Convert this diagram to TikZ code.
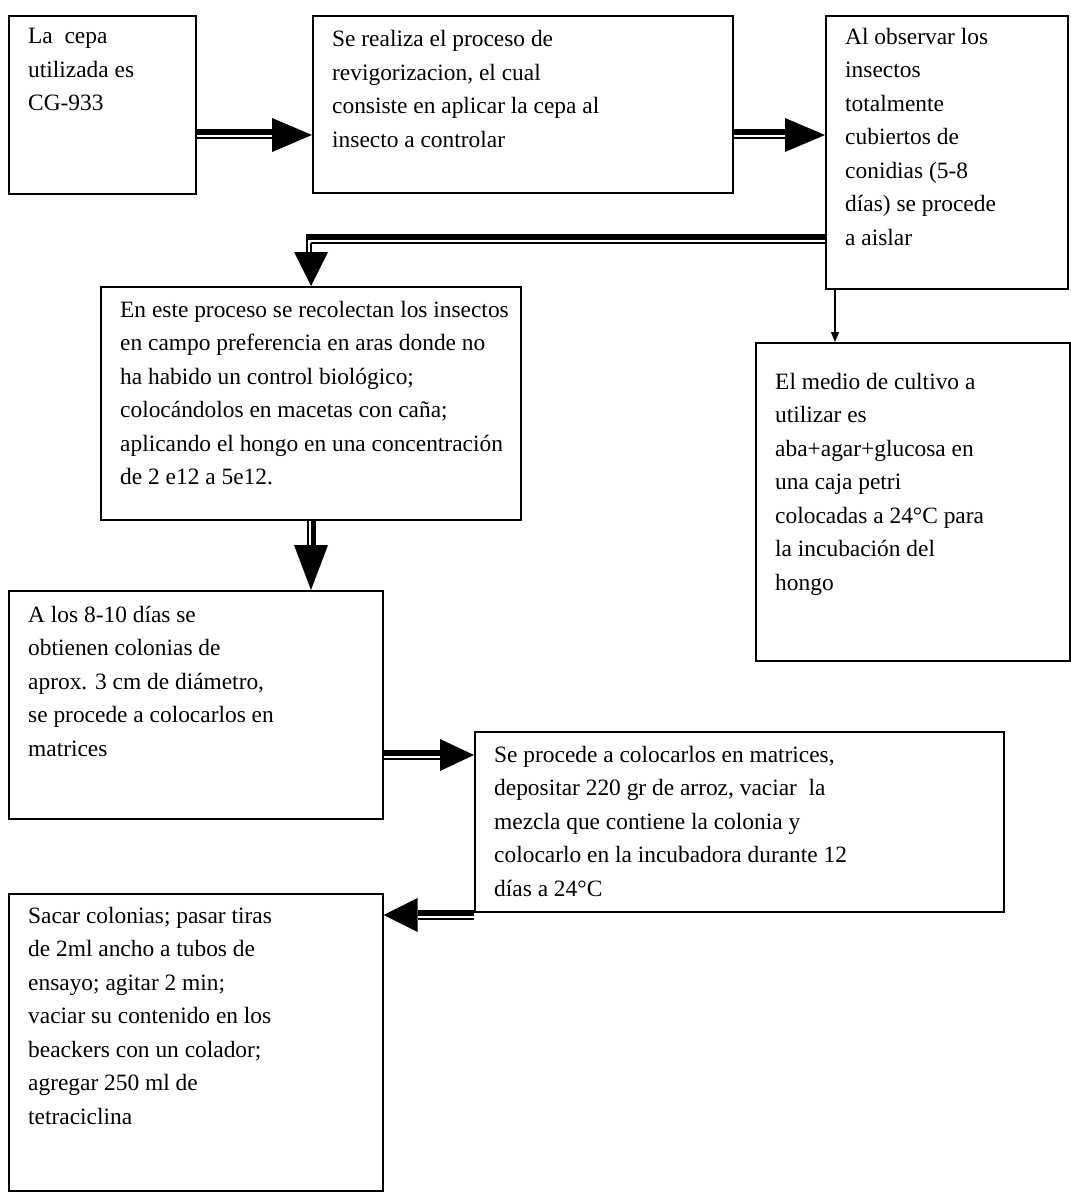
\documentclass[tikz,border=0pt]{standalone}
\usepackage{fontspec}
\setmainfont{Liberation Serif}
\usetikzlibrary{calc,arrows.meta}
\begin{document}
\begin{tikzpicture}[x=1pt,y=-1pt,
  box/.style={draw=black,line width=1.6pt,anchor=north west,inner sep=0pt},
  txt/.style={anchor=base west,align=left,inner sep=0pt,font=\fontsize{23.4}{33.5}\selectfont},
  thk/.style={line width=6pt},
  thn/.style={line width=2pt},
  headfill/.style={fill=black}]
\useasboundingbox (0,0) rectangle (1070,1193);
% boxes
\node[box,minimum width=187pt,minimum height=178pt] (b1) at (8,15) {};
\node[box,minimum width=420pt,minimum height=177pt] (b2) at (312,15) {};
\node[box,minimum width=242pt,minimum height=273pt] (b3) at (825,15) {};
\node[box,minimum width=420pt,minimum height=233pt] (b4) at (100,286) {};
\node[box,minimum width=374pt,minimum height=228pt] (b5) at (8,590) {};
\node[box,minimum width=529pt,minimum height=180pt] (b6) at (474,731) {};
\node[box,minimum width=374pt,minimum height=297pt] (b7) at (8,893) {};
\node[box,minimum width=314pt,minimum height=318pt] (b8) at (755,342) {};
% texts (anchor = baseline of last line)
\node[txt] (t1) at (28,111) {La\ \ cepa\\utilizada es\\CG-933};
\node[txt] (t2) at (332,147.5) {Se realiza el proceso de\\revigorizacion, el cual\\consiste en aplicar la cepa al\\insecto a controlar};
\node[txt] (t3) at (845,245) {Al observar los\\insectos\\totalmente\\cubiertos de\\conidias (5-8\\días) se procede\\a aislar};
\node[txt] (t4) at (120,484.5) {En este proceso se recolectan los insectos\\en campo preferencia en aras donde no\\ha habido un control biológico;\\colocándolos en macetas con caña;\\aplicando el hongo en una concentración\\de 2 e12 a 5e12.};
\node[txt] (t5) at (28,756) {A los 8-10 días se\\obtienen colonias de\\aprox. 3 cm de diámetro,\\se procede a colocarlos en\\matrices};
\node[txt] (t6) at (494,896) {Se procede a colocarlos en matrices,\\depositar 220 gr de arroz, vaciar\ \ la\\mezcla que contiene la colonia y\\colocarlo en la incubadora durante 12\\días a 24°C};
\node[txt] (t7) at (28,1124) {Sacar colonias; pasar tiras\\de 2ml ancho a tubos de\\ensayo; agitar 2 min;\\vaciar su contenido en los\\beackers con un colador;\\agregar 250 ml de\\tetraciclina};
\node[txt] (t8) at (775,590) {El medio de cultivo a\\utilizar es\\aba+agar+glucosa en\\una caja petri\\colocadas a 24°C para\\la incubación del\\hongo};
% helper rows/columns
\coordinate (y1) at (0,135);
\coordinate (y3) at (0,240);
\coordinate (x3) at (311,0);
\coordinate (y5) at (0,755);
\coordinate (y6) at (0,915);
\coordinate (x7) at (835,0);
% arrow 1: b1 -> b2
\draw[thk] ($(b1.east|-y1)+(0,-2.5)$) -- ($(b2.west|-y1)+(-40,-2.5)$);
\draw[thn] ($(b1.east|-y1)+(0,3.5)$) -- ($(b2.west|-y1)+(-40,3.5)$);
\fill[headfill] (b2.west|-y1) -- ++(-40,-17) -- ++(0,34) -- cycle;
% arrow 2: b2 -> b3
\draw[thk] ($(b2.east|-y1)+(0,-2.5)$) -- ($(b3.west|-y1)+(-40,-2.5)$);
\draw[thn] ($(b2.east|-y1)+(0,3.5)$) -- ($(b3.west|-y1)+(-40,3.5)$);
\fill[headfill] (b3.west|-y1) -- ++(-40,-17) -- ++(0,34) -- cycle;
% arrow 3: b3 -> b4 (elbow)
\draw[thk] ($(b3.west|-y3)+(0,-3)$) -- ($(x3|-y3)+(-5,-3)$);
\draw[thn] ($(b3.west|-y3)+(0,3)$) -- ($(x3|-y3)+(0,3)$);
\draw[thn] ($(x3|-y3)+(-4.5,0)$) -- ($(x3|-b4.north)+(-4.5,-33)$);
\draw[thn] ($(x3|-y3)+(0,3)$) -- ($(x3|-b4.north)+(0,-33)$);
\fill[headfill] (x3|-b4.north) -- ++(-17,-34) -- ++(34,0) -- cycle;
% arrow 4: b4 -> b5
\draw[thn] ($(x3|-b4.south)+(-3.5,0)$) -- ($(x3|-b5.north)+(-3.5,-45)$);
\draw[line width=5pt] ($(x3|-b4.south)+(2.5,0)$) -- ($(x3|-b5.north)+(2.5,-45)$);
\fill[headfill] (x3|-b5.north) -- ++(-17,-45) -- ++(34,0) -- cycle;
% arrow 5: b5 -> b6
\draw[thk] ($(b5.east|-y5)+(0,-2.5)$) -- ($(b6.west|-y5)+(-34,-2.5)$);
\draw[thn] ($(b5.east|-y5)+(0,3.5)$) -- ($(b6.west|-y5)+(-34,3.5)$);
\fill[headfill] (b6.west|-y5) -- ++(-34,-16) -- ++(0,32) -- cycle;
% arrow 6: b6 -> b7
\draw[thk] ($(b6.west|-y6)+(0,-2.5)$) -- ($(b7.east|-y6)+(34,-2.5)$);
\draw[thn] ($(b6.west|-y6)+(0,3.5)$) -- ($(b7.east|-y6)+(34,3.5)$);
\fill[headfill] (b7.east|-y6) -- ++(34,-17) -- ++(0,34) -- cycle;
% arrow 7: b3 -> b8 (thin)
\draw[line width=1.2pt,-{Triangle[length=10pt,width=8pt]}] (x7|-b3.south) -- (x7|-b8.north);
\end{tikzpicture}
\end{document}
